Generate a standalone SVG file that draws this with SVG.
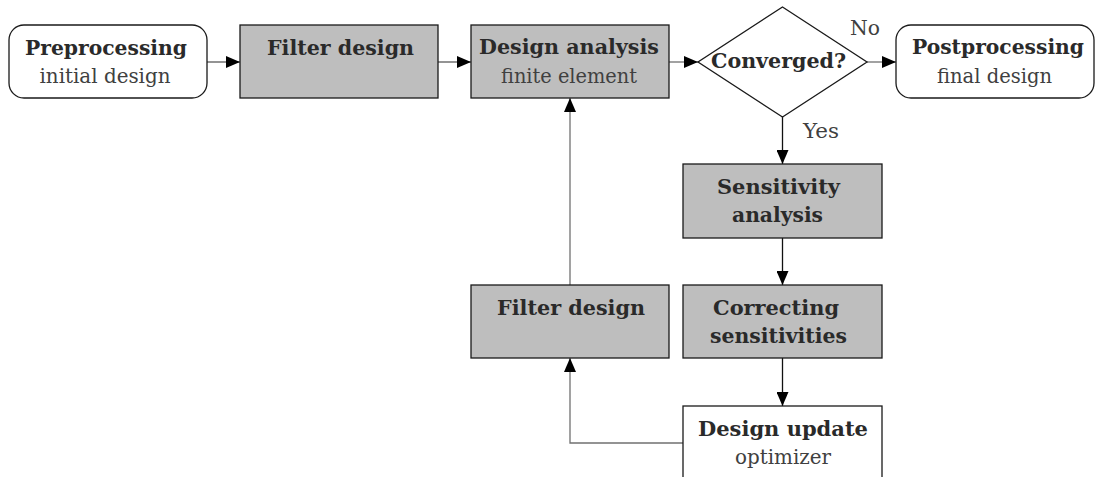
<svg xmlns="http://www.w3.org/2000/svg" width="1096" height="477" viewBox="0 0 1096 477">
  <style>
    .box { stroke: #1a1a1a; stroke-width: 1.3; }
    .proc { fill: #bebebe; }
    .term { fill: #ffffff; }
    .title { font-family: "DejaVu Serif", serif; font-weight: bold; font-size: 20px; fill: #2a2a2a; text-anchor: middle; }
    .sub { font-family: "DejaVu Serif", serif; font-size: 20px; fill: #404040; text-anchor: middle; }
    .lbl { font-family: "DejaVu Serif", serif; font-size: 20px; fill: #404040; }
    .edge { fill: none; stroke-width: 1.3; }
    .grey { stroke: #707070; }
    .dark { stroke: #111111; }
  </style>
  <defs>
    <marker id="arrow" viewBox="0 0 14 12" refX="14" refY="6" markerWidth="14" markerHeight="12" markerUnits="userSpaceOnUse" orient="auto">
      <path d="M0,0 L14,6 L0,12 Z" fill="#000"/>
    </marker>
  </defs>

  <!-- connectors -->
  <g id="connectors">
    <line class="edge grey" x1="207" y1="62" x2="240" y2="62" marker-end="url(#arrow)"/>
    <line class="edge grey" x1="438" y1="62" x2="471" y2="62" marker-end="url(#arrow)"/>
    <line class="edge grey" x1="669" y1="62" x2="698" y2="62" marker-end="url(#arrow)"/>
    <line class="edge grey" x1="867" y1="62" x2="896" y2="62" marker-end="url(#arrow)"/>
    <line class="edge dark" x1="782.5" y1="117" x2="782.5" y2="164" marker-end="url(#arrow)"/>
    <line class="edge dark" x1="782.5" y1="238" x2="782.5" y2="285" marker-end="url(#arrow)"/>
    <line class="edge dark" x1="782.5" y1="358" x2="782.5" y2="406" marker-end="url(#arrow)"/>
    <polyline class="edge grey" points="683,443 570,443 570,358" marker-end="url(#arrow)"/>
    <line class="edge grey" x1="570" y1="285" x2="570" y2="98" marker-end="url(#arrow)"/>
    <text class="lbl" x="850" y="35" textLength="30" lengthAdjust="spacingAndGlyphs">No</text>
    <text class="lbl" x="803" y="138" textLength="36" lengthAdjust="spacingAndGlyphs">Yes</text>
  </g>

  <g id="preprocessing">
    <rect class="box term" x="9" y="25" width="198" height="73" rx="15" ry="15"/>
    <text class="title" x="106" y="55" textLength="162" lengthAdjust="spacingAndGlyphs">Preprocessing</text>
    <text class="sub" x="105" y="83" textLength="131" lengthAdjust="spacingAndGlyphs">initial design</text>
  </g>

  <g id="filter-design-top">
    <rect class="box proc" x="240" y="25" width="198" height="73"/>
    <text class="title" x="340.5" y="55" textLength="147" lengthAdjust="spacingAndGlyphs">Filter design</text>
  </g>

  <g id="design-analysis">
    <rect class="box proc" x="471" y="25" width="198" height="73"/>
    <text class="title" x="569" y="54" textLength="180" lengthAdjust="spacingAndGlyphs">Design analysis</text>
    <text class="sub" x="569" y="83" textLength="136" lengthAdjust="spacingAndGlyphs">finite element</text>
  </g>

  <g id="converged">
    <polygon class="box term" points="782.5,7 867,62 782.5,117 698,62"/>
    <text class="title" x="778.5" y="68" textLength="135" lengthAdjust="spacingAndGlyphs">Converged?</text>
  </g>

  <g id="postprocessing">
    <rect class="box term" x="896" y="25" width="198" height="73" rx="15" ry="15"/>
    <text class="title" x="998" y="54" textLength="172" lengthAdjust="spacingAndGlyphs">Postprocessing</text>
    <text class="sub" x="994.5" y="83" textLength="115" lengthAdjust="spacingAndGlyphs">final design</text>
  </g>

  <g id="sensitivity-analysis">
    <rect class="box proc" x="683" y="164" width="199" height="74"/>
    <text class="title" x="778.5" y="194" textLength="123" lengthAdjust="spacingAndGlyphs">Sensitivity</text>
    <text class="title" x="777.5" y="222" textLength="91" lengthAdjust="spacingAndGlyphs">analysis</text>
  </g>

  <g id="correcting-sensitivities">
    <rect class="box proc" x="683" y="285" width="199" height="73"/>
    <text class="title" x="776" y="315" textLength="126" lengthAdjust="spacingAndGlyphs">Correcting</text>
    <text class="title" x="778.5" y="343" textLength="137" lengthAdjust="spacingAndGlyphs">sensitivities</text>
  </g>

  <g id="filter-design-loop">
    <rect class="box proc" x="471" y="285" width="198" height="73"/>
    <text class="title" x="571" y="315" textLength="148" lengthAdjust="spacingAndGlyphs">Filter design</text>
  </g>

  <g id="design-update">
    <rect class="box term" x="683" y="406" width="199" height="90"/>
    <text class="title" x="783" y="436" textLength="170" lengthAdjust="spacingAndGlyphs">Design update</text>
    <text class="sub" x="783" y="464" textLength="96" lengthAdjust="spacingAndGlyphs">optimizer</text>
  </g>
</svg>
